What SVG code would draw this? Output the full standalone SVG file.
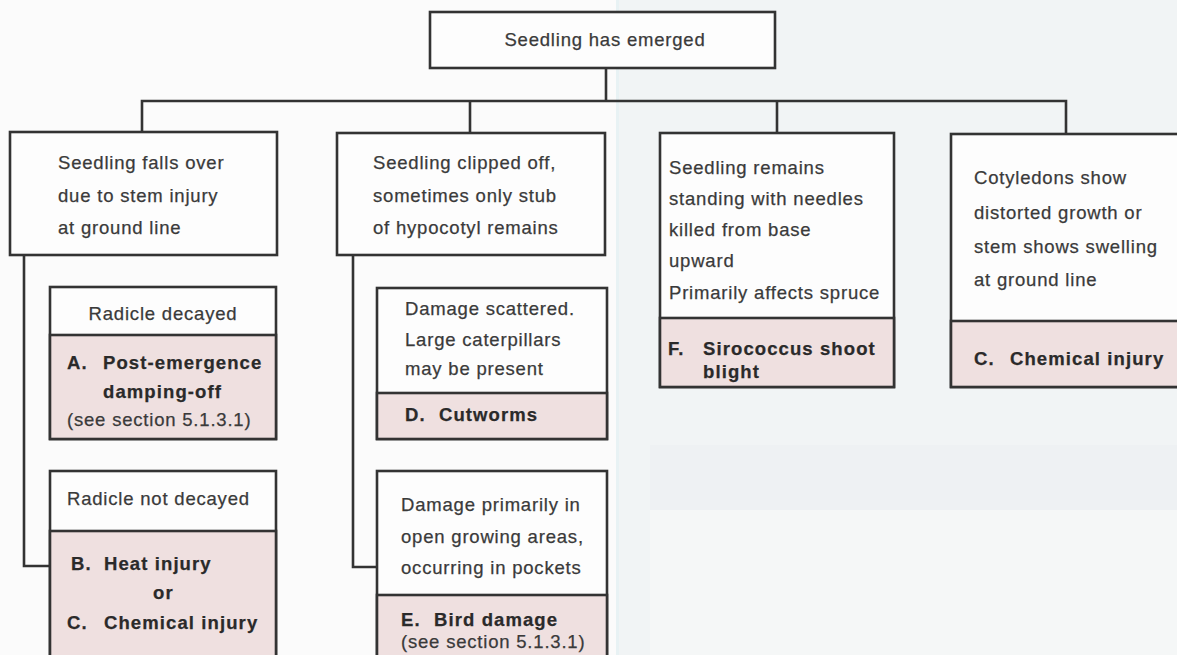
<svg xmlns="http://www.w3.org/2000/svg" width="1177" height="655" viewBox="0 0 1177 655">
  <style>
    .box { fill: #fdfdfd; stroke: #333; stroke-width: 2.6; }
    .pink { fill: #efe0e0; stroke: #333; stroke-width: 2.6; }
    .conn { stroke: #333; stroke-width: 2.6; fill: none; stroke-linejoin: miter; }
    text { font-family: "Liberation Sans", Arial, Helvetica, sans-serif; font-size: 18.5px; letter-spacing: 0.8px; fill: #3a3a3a; stroke: #3a3a3a; stroke-width: 0.25; }
    .b { font-weight: bold; fill: #2a2a2a; stroke: #2a2a2a; letter-spacing: 1.1px; }
    .c { text-anchor: middle; }
  </style>

  <!-- page background -->
  <rect x="0" y="0" width="1177" height="655" fill="#fbfbfb"/>
  <rect x="618" y="0" width="559" height="655" fill="#f1f4f5"/>
  <rect x="650" y="445" width="527" height="65" fill="#eef1f3"/>
  <rect x="650" y="510" width="527" height="145" fill="#f5f7f7"/>
  <rect x="616" y="0" width="3" height="655" fill="#e8f2f4"/>

  <!-- connectors -->
  <g id="connectors">
    <path class="conn" d="M606,68 V101"/>
    <path class="conn" d="M142,132 V101 H1066 V134"/>
    <path class="conn" d="M470,101 V133"/>
    <path class="conn" d="M777,101 V133"/>
    <path class="conn" d="M24,254 V566 H51"/>
    <path class="conn" d="M353,255 V567 H377"/>
  </g>

  <!-- root -->
  <g id="root">
    <rect class="box" x="430" y="12" width="345" height="56"/>
    <text class="c" x="605" y="46">Seedling has emerged</text>
  </g>

  <!-- first-level branches -->
  <g id="falls-over">
    <rect class="box" x="10" y="132" width="267" height="123"/>
    <text x="58" y="169">Seedling falls over</text>
    <text x="58" y="202">due to stem injury</text>
    <text x="58" y="234">at ground line</text>
  </g>

  <g id="clipped-off">
    <rect class="box" x="337" y="133" width="268" height="122"/>
    <text x="373" y="169">Seedling clipped off,</text>
    <text x="373" y="202">sometimes only stub</text>
    <text x="373" y="234">of hypocotyl remains</text>
  </g>

  <g id="remains-standing">
    <rect class="box" x="660" y="133" width="234" height="254"/>
    <rect class="pink" x="660" y="318" width="234" height="69"/>
    <text x="669" y="174">Seedling remains</text>
    <text x="669" y="205">standing with needles</text>
    <text x="669" y="236">killed from base</text>
    <text x="669" y="267">upward</text>
    <text x="669" y="299">Primarily affects spruce</text>
    <text class="b" x="668" y="355">F.</text>
    <text class="b" x="703" y="355">Sirococcus shoot</text>
    <text class="b" x="703" y="378">blight</text>
  </g>

  <g id="distorted-growth">
    <rect class="box" x="951" y="134" width="240" height="253"/>
    <rect class="pink" x="951" y="321" width="240" height="66"/>
    <text x="974" y="184">Cotyledons show</text>
    <text x="974" y="219">distorted growth or</text>
    <text x="974" y="253">stem shows swelling</text>
    <text x="974" y="286">at ground line</text>
    <text class="b" x="974" y="365">C.</text>
    <text class="b" x="1010" y="365">Chemical injury</text>
  </g>

  <!-- second-level: under falls-over -->
  <g id="radicle-decayed">
    <rect class="box" x="50" y="287" width="226" height="152"/>
    <rect class="pink" x="50" y="335" width="226" height="104"/>
    <text class="c" x="163" y="320">Radicle decayed</text>
    <text class="b" x="67" y="369">A.</text>
    <text class="b" x="103" y="369">Post-emergence</text>
    <text class="b" x="103" y="398">damping-off</text>
    <text x="67" y="426">(see section 5.1.3.1)</text>
  </g>

  <g id="radicle-not-decayed">
    <rect class="box" x="50" y="471" width="226" height="195"/>
    <rect class="pink" x="50" y="531" width="226" height="135"/>
    <text x="67" y="505">Radicle not decayed</text>
    <text class="b" x="71" y="570">B.</text>
    <text class="b" x="104" y="570">Heat injury</text>
    <text class="b" x="153" y="599">or</text>
    <text class="b" x="67" y="629">C.</text>
    <text class="b" x="104" y="629">Chemical injury</text>
  </g>

  <!-- second-level: under clipped-off -->
  <g id="damage-scattered">
    <rect class="box" x="377" y="288" width="230" height="151"/>
    <rect class="pink" x="377" y="393" width="230" height="46"/>
    <text x="405" y="315">Damage scattered.</text>
    <text x="405" y="346">Large caterpillars</text>
    <text x="405" y="375">may be present</text>
    <text class="b" x="405" y="421">D.</text>
    <text class="b" x="439" y="421">Cutworms</text>
  </g>

  <g id="damage-in-pockets">
    <rect class="box" x="377" y="471" width="230" height="195"/>
    <rect class="pink" x="377" y="595" width="230" height="71"/>
    <text x="401" y="511">Damage primarily in</text>
    <text x="401" y="543">open growing areas,</text>
    <text x="401" y="574">occurring in pockets</text>
    <text class="b" x="401" y="626">E.</text>
    <text class="b" x="434" y="626">Bird damage</text>
    <text x="401" y="648">(see section 5.1.3.1)</text>
  </g>
</svg>
